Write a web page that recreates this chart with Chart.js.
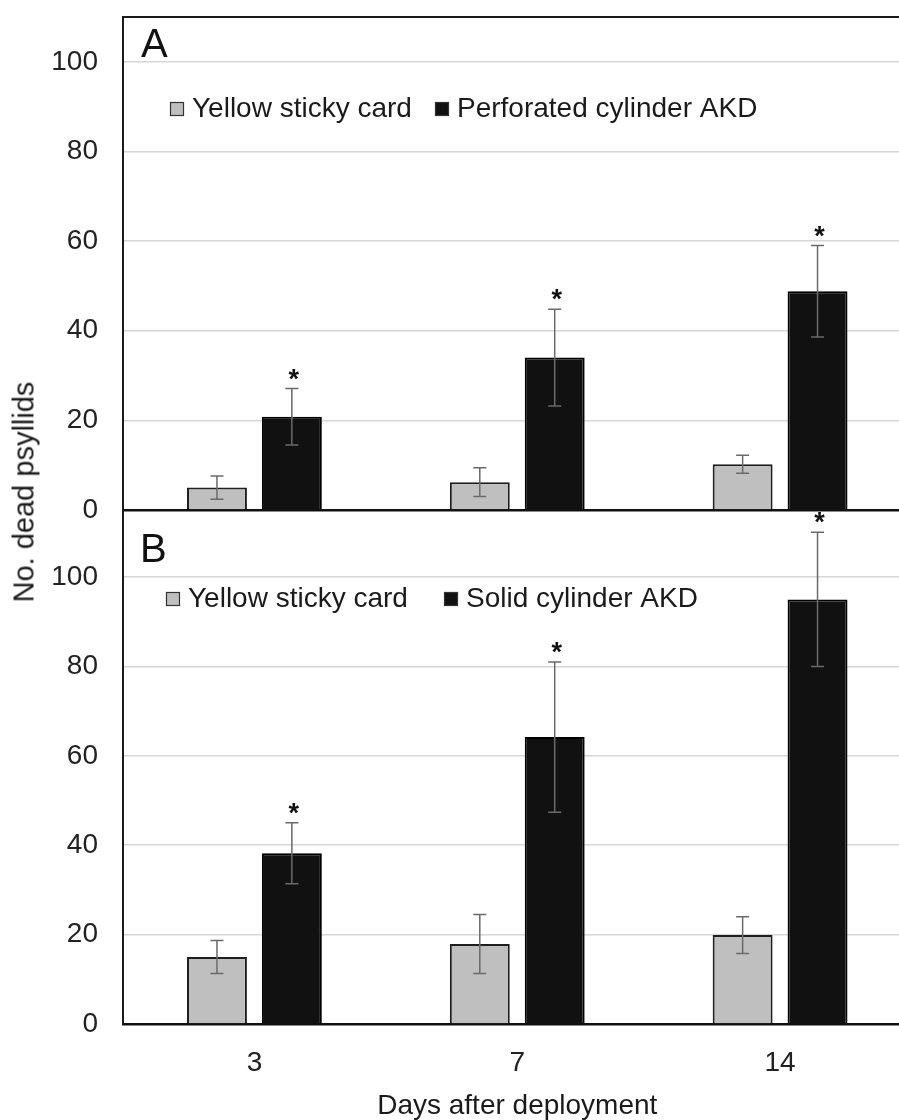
<!DOCTYPE html>
<html><head><meta charset="utf-8">
<script src="https://cdn.jsdelivr.net/npm/chart.js@4.4.1/dist/chart.umd.min.js"></script>
<style>
html,body{margin:0;padding:0;background:#fff;width:899px;height:1120px;overflow:hidden;}
#wrap{position:relative;width:899px;height:1120px;overflow:hidden;background:#fff;}
canvas{position:absolute;left:0;top:0;}
#ytitle{position:absolute;left:24px;top:492px;transform:translate(-50%,-50%) rotate(-90deg);font:29px "Liberation Sans",Arial,sans-serif;color:#1a1a1a;white-space:nowrap;}
</style></head><body>
<div id="wrap">
<canvas id="cA" width="920" height="1140"></canvas>
<canvas id="cB" width="920" height="1140"></canvas>
<div id="ytitle"></div>
</div>
<script>
// ---------- data ----------
const days = ['3', '7', '14'];
const yTickValues = [0, 20, 40, 60, 80, 100];
const panelLabels = ['A', 'B'];
const seriesA = ['Yellow sticky card', 'Perforated cylinder AKD'];
const seriesB = ['Yellow sticky card', 'Solid cylinder AKD'];
const aYellow = [5.0, 6.2, 10.2];
const aYellowErr = [2.6, 3.2, 2.0];
const aAkd = [20.8, 34.0, 48.8];
const aAkdErr = [6.3, 10.8, 10.2];
const bYellow = [15.0, 17.9, 19.9];
const bYellowErr = [3.7, 6.6, 4.1];
const bAkd = [38.2, 64.2, 95.0];
const bAkdErr = [6.8, 16.8, 15.0];
const aSignif = ['*', '*', '*'];
const bSignif = ['*', '*', '*'];
const yMaxA = 110;
const yMaxB = 115;
const xTitle = 'Days after deployment';
const yTitle = 'No. dead psyllids';

document.getElementById('ytitle').textContent = yTitle;

const FONT = '"Liberation Sans", Arial, sans-serif';
Chart.defaults.font.family = FONT;
Chart.defaults.color = '#222';

const deco = {
  id: 'deco',
  afterDatasetsDraw(chart, args, o) {
    const ctx = chart.ctx, ys = chart.scales.y;
    ctx.save();
    chart.data.datasets.forEach((ds, i) => {
      const meta = chart.getDatasetMeta(i);
      meta.data.forEach((el, j) => {
        const v = ds.data[j], e = ds.err[j];
        const yt = ys.getPixelForValue(v + e), yb = ys.getPixelForValue(v - e);
        ctx.strokeStyle = '#6a6a6a'; ctx.lineWidth = 1.5;
        ctx.beginPath();
        ctx.moveTo(el.x, yt); ctx.lineTo(el.x, yb);
        ctx.moveTo(el.x - 6.5, yt); ctx.lineTo(el.x + 6.5, yt);
        ctx.moveTo(el.x - 6.5, yb); ctx.lineTo(el.x + 6.5, yb);
        ctx.stroke();
        if (ds.signif && ds.signif[j]) {
          ctx.fillStyle = '#111';
          ctx.font = 'bold 27px ' + FONT;
          ctx.textAlign = 'center'; ctx.textBaseline = 'alphabetic';
          ctx.fillText(ds.signif[j], el.x + 2, yt - 1);
        }
      });
    });
    ctx.restore();
  },
  afterDraw(chart, args, o) {
    const ctx = chart.ctx, ca = chart.chartArea;
    ctx.save();
    if (o.topBorder) {
      ctx.strokeStyle = '#1a1a1a'; ctx.lineWidth = 2;
      ctx.beginPath(); ctx.moveTo(ca.left - 1, ca.top); ctx.lineTo(ca.right, ca.top); ctx.stroke();
    }
    // panel label
    ctx.fillStyle = '#111';
    ctx.font = '40px ' + FONT;
    ctx.textAlign = 'left'; ctx.textBaseline = 'alphabetic';
    ctx.fillText(o.panel, o.panelX, o.panelY);
    // legend
    ctx.font = '28px ' + FONT;
    chart.data.datasets.forEach((ds, i) => {
      const sx = o.legendX[i];
      ctx.fillStyle = ds.backgroundColor;
      ctx.fillRect(sx, o.legendY - 15, 14, 14);
      ctx.strokeStyle = '#333'; ctx.lineWidth = 1.2;
      ctx.strokeRect(sx + 0.5, o.legendY - 14.5, 13, 13);
      ctx.fillStyle = '#1a1a1a';
      ctx.fillText(ds.label, sx + o.textOffset, o.legendY);
    });
    ctx.restore();
  }
};

function makeChart(id, cfg) {
  return new Chart(document.getElementById(id), {
    type: 'bar',
    data: {
      labels: days,
      datasets: [
        { label: cfg.names[0], data: cfg.v1, err: cfg.e1, backgroundColor: '#bfbfbf', borderColor: '#1e1e1e', borderWidth: 2 },
        { label: cfg.names[1], data: cfg.v2, err: cfg.e2, signif: cfg.signif, backgroundColor: '#111111', borderColor: '#000', borderWidth: 2 }
      ]
    },
    options: {
      responsive: false, animation: false, events: [], devicePixelRatio: 1,
      datasets: { bar: { categoryPercentage: 0.57, barPercentage: 0.8 } },
      layout: { padding: { top: cfg.padTop, bottom: cfg.padBottom, left: 0, right: 8.5 } },
      plugins: { legend: { display: false }, tooltip: { enabled: false }, deco: cfg.deco },
      scales: {
        x: {
          z: 1,
          grid: { display: false, drawTicks: false },
          border: { display: true, color: '#111', width: 2.5 },
          ticks: { display: cfg.showX, font: { size: 28 }, color: '#222', padding: 22, maxRotation: 0, autoSkip: false },
          title: { display: cfg.showX, text: xTitle, font: { size: 28 }, color: '#1a1a1a', padding: { top: 0, bottom: 17 } },
          afterFit(s) { s.height = cfg.xHeight; s.paddingLeft = 0; s.paddingRight = 0; }
        },
        y: {
          min: 0, max: cfg.max,
          afterBuildTicks(s) { s.ticks = yTickValues.map(v => ({ value: v })); },
          ticks: { font: { size: 28 }, color: '#222', padding: 25 },
          grid: { color: '#d6d6d6', lineWidth: 1.5, drawTicks: false },
          border: { color: '#1a1a1a', width: 2 },
          afterFit(s) { s.width = 123; s.paddingTop = 0; s.paddingBottom = 0; }
        }
      }
    },
    plugins: [deco]
  });
}

makeChart('cA', {
  names: seriesA, v1: aYellow, e1: aYellowErr, v2: aAkd, e2: aAkdErr, signif: aSignif,
  max: yMaxA, padTop: 17, padBottom: 630, xHeight: 0, showX: false,
  deco: { topBorder: true, panel: panelLabels[0], panelX: 141, panelY: 57, legendX: [170, 435], legendY: 117, textOffset: 22 }
});
makeChart('cB', {
  names: seriesB, v1: bYellow, e1: bYellowErr, v2: bAkd, e2: bAkdErr, signif: bSignif,
  max: yMaxB, padTop: 510, padBottom: 0, xHeight: 116, showX: true,
  deco: { topBorder: false, panel: panelLabels[1], panelX: 140, panelY: 562, legendX: [166, 444], legendY: 607, textOffset: 22 }
});
</script>
</body></html>
